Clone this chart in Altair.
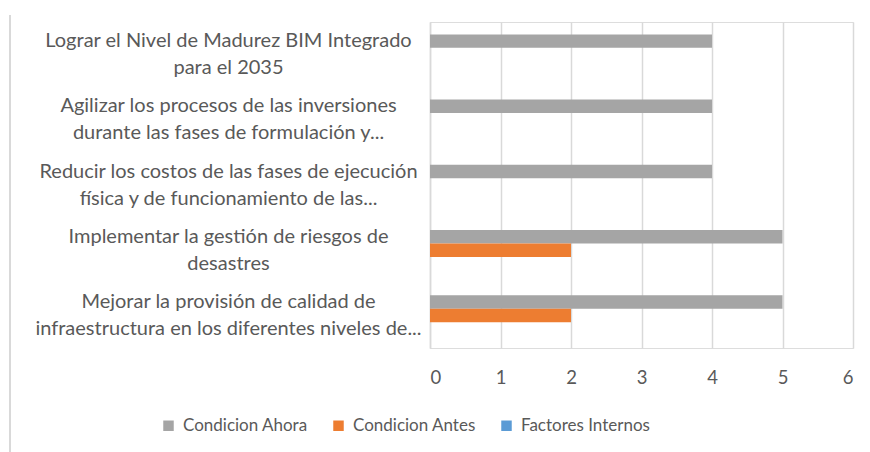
import altair as alt
import pandas as pd

categories = [
    "Lograr el Nivel de Madurez BIM Integrado|para el 2035",
    "Agilizar los procesos de las inversiones|durante las fases de formulación y...",
    "Reducir los costos de las fases de ejecución|física y de funcionamiento de las...",
    "Implementar la gestión de riesgos de|desastres",
    "Mejorar la provisión de calidad de|infraestructura en los diferentes niveles de...",
]
series = ["Condicion Ahora", "Condicion Antes", "Factores Internos"]
colors = ["#a5a5a5", "#ed7d31", "#5b9bd5"]
ahora = [4, 4, 4, 5, 5]
antes = [0, 0, 0, 2, 2]
internos = [0, 0, 0, 0, 0]
x_ticks = [0, 1, 2, 3, 4, 5, 6]

rows = []
for vals, s in zip([ahora, antes, internos], series):
    for c, v in zip(categories, vals):
        rows.append({"cat": c, "serie": s, "valor": v})
df = pd.DataFrame(rows)

FONT = "Lato"
TXT = "#595959"

bars = alt.Chart(df).mark_bar().encode(
    x=alt.X("valor:Q", scale=alt.Scale(domain=[0, 6], nice=False),
            axis=alt.Axis(values=x_ticks, title=None, grid=True, gridColor="#d9d9d9",
                          gridWidth=1.5, domain=False, ticks=False, labelPadding=20,
                          labelFontSize=18.5, labelColor=TXT, labelFont=FONT)),
    y=alt.Y("cat:N", sort=categories,
            scale=alt.Scale(paddingInner=0.38, paddingOuter=0.19),
            axis=alt.Axis(title=None, domain=True, domainColor="#d9d9d9", domainWidth=1.5,
                          ticks=False, labelPadding=202, labelAlign="center",
                          labelBaseline="middle", labelLimit=0, labelLineHeight=27,
                          labelOffset=-13.5,
                          labelFontSize=20, labelColor=TXT, labelFont=FONT,
                          labelExpr="split(datum.label, '|')")),
    yOffset=alt.YOffset("serie:N", sort=series),
    color=alt.Color("serie:N", scale=alt.Scale(domain=series, range=colors),
                    legend=alt.Legend(title=None, orient="none", direction="horizontal",
                                      legendX=-270, legendY=395, symbolType="square",
                                      symbolSize=110, symbolStrokeWidth=0,
                                      labelFontSize=17, labelColor=TXT, labelFont=FONT,
                                      columnPadding=22, labelOffset=6)),
)

border = alt.Chart(df).mark_rule(color="#d9d9d9", strokeWidth=1.5).encode(
    x=alt.value(-420), y=alt.value(-7), y2=alt.value(440)
)

chart = alt.layer(border, bars).properties(
    width=423, height=326,
    autosize=alt.AutoSizeParams(type="none"),
    padding={"left": 422, "top": 14, "right": 8, "bottom": 104},
).configure_view(stroke=None).configure(background="white")

chart.save("out.html", embed_options={"renderer": "svg", "actions": False})
